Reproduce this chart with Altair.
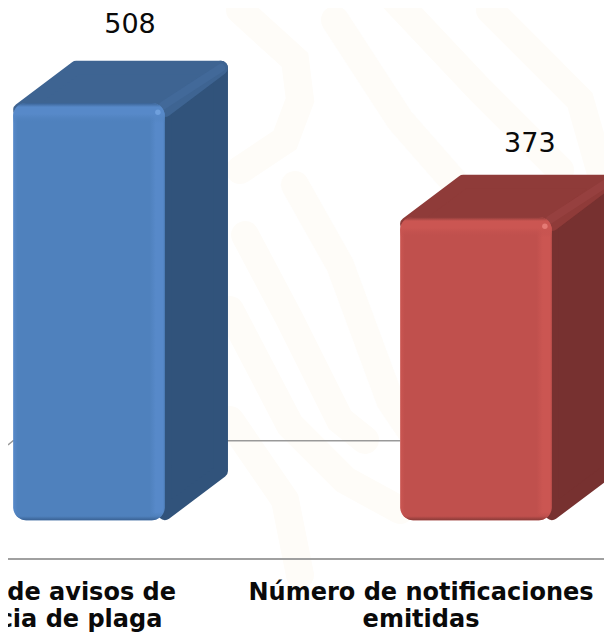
import altair as alt
import pandas as pd

categories = ["Número de avisos de\npresencia de plaga", "Número de notificaciones\nemitidas"]
values = [508, 373]
front_colors = ["#4f81bd", "#c0504d"]
edge_colors = ["#5789c9", "#cb5652"]
top_colors = ["#3e6492", "#8f3b39"]
side_colors = ["#31537b", "#773130"]
ridge_colors = ["#43699a", "#974140"]
shine_colors = ["#79a9e6", "#f08a84"]
dark_colors = ["#3a6294", "#8a3a38"]
label_dx = [0.106, 0.139]
label_dy = [43, 37]

# Faint background watermark bands, in page pixels converted below
watermark_x = [
    [240, 295, 300, 285, 240],
    [245, 290, 340, 365],
    [295, 340, 390, 410],
    [230, 290, 345, 400],
    [230, 285, 300],
    [335, 400, 470],
    [395, 480, 560],
    [490, 580, 600],
]
watermark_y = [
    [10, 60, 100, 140, 170],
    [235, 320, 420, 440],
    [185, 265, 400, 430],
    [310, 425, 480, 510],
    [420, 500, 575],
    [20, 120, 200],
    [0, 90, 170],
    [10, 100, 170],
]

LABEL_FONT = "DejaVu Sans"
PX_X = 387
PX_Y = 0.8444
Y0 = 532
X0 = 89


def wx(p):
    return (p - X0) / PX_X


def wy(p):
    return (Y0 - p) / PX_Y


X_DOMAIN = [wx(8), wx(604)]
Y_DOMAIN = [wy(632), wy(8)]
HALF = 0.196
DX = 0.163
DY = 50
BASE = 14
WALL = 108
AXIS = -32
TEXT_DX = -0.142
INX = 0.018
INY = 8.3

xs = alt.X("x:Q", scale=alt.Scale(domain=X_DOMAIN, nice=False, zero=False), axis=None)
ys = alt.Y("y:Q", scale=alt.Scale(domain=Y_DOMAIN, nice=False, zero=False), axis=None)


def base(rows):
    return alt.Chart(pd.DataFrame(rows))


layers = []
for wxs, wys in zip(watermark_x, watermark_y):
    rows = [{"x": wx(a), "y": wy(b), "o": n} for n, (a, b) in enumerate(zip(wxs, wys))]
    layers.append(
        base(rows)
        .mark_line(color="#fefcf8", strokeWidth=28, strokeCap="round", clip=True)
        .encode(x=xs, y=ys, order="o:Q")
    )

layers += [
    base([{"x": X_DOMAIN[0], "y": WALL - 5, "o": 0}, {"x": -HALF, "y": WALL, "o": 1}, {"x": 1 - HALF, "y": WALL, "o": 2}])
    .mark_line(color="#999999", strokeWidth=1.4)
    .encode(x=xs, y=ys, order="o:Q"),
    base([{"x": X_DOMAIN[0], "y": AXIS}, {"x": X_DOMAIN[1], "y": AXIS}])
    .mark_line(color="#a0a0a0", strokeWidth=2.2)
    .encode(x=xs, y=ys),
]

for i, v in enumerate(values):
    l, r = i - HALF, i + HALF
    side = [
        {"x": r, "y": BASE + INY, "y2": v - INY},
        {"x": r + DX - INX, "y": BASE + DY + INY, "y2": v + DY - INY},
    ]
    layers.append(
        base(side)
        .mark_area(color=side_colors[i], stroke=side_colors[i], strokeWidth=14, strokeJoin="round", clip=True)
        .encode(x=xs, y=ys, y2="y2:Q")
    )
    top = [
        {"y": v - INY, "x": l + INX, "x2": r},
        {"y": v + DY - INY, "x": l + DX, "x2": r + DX - INX},
    ]
    layers.append(
        base(top)
        .mark_area(orient="horizontal", color=top_colors[i], stroke=top_colors[i], strokeWidth=14, strokeJoin="round", clip=True)
        .encode(y=ys, x=xs, x2="x2:Q")
    )
    ridge = [{"x": r - 0.005, "y": v - 3}, {"x": r + DX - INX, "y": v + DY - INY}]
    layers.append(
        base(ridge)
        .mark_line(color=ridge_colors[i], strokeWidth=8, strokeCap="round", opacity=0.9, clip=True)
        .encode(x=xs, y=ys)
    )
    rect = [{"x": l, "x2": r, "y": BASE, "y2": v}]
    layers.append(
        base(rect)
        .mark_rect(
            cornerRadius=13,
            color=alt.Gradient(
                gradient="linear", x1=0, x2=1, y1=0, y2=0,
                stops=[
                    alt.GradientStop(offset=0, color=edge_colors[i]),
                    alt.GradientStop(offset=0.03, color=front_colors[i]),
                    alt.GradientStop(offset=0.9, color=front_colors[i]),
                    alt.GradientStop(offset=0.94, color=edge_colors[i]),
                    alt.GradientStop(offset=0.985, color=edge_colors[i]),
                    alt.GradientStop(offset=1, color=front_colors[i]),
                ],
            ),
        )
        .encode(x=xs, x2="x2:Q", y=ys, y2="y2:Q")
    )
    h = (v - BASE) * PX_Y
    rgb = front_colors[i]
    layers.append(
        base(rect)
        .mark_rect(
            cornerRadius=13,
            color=alt.Gradient(
                gradient="linear", x1=0, x2=0, y1=0, y2=1,
                stops=[
                    alt.GradientStop(offset=0, color=dark_colors[i]),
                    alt.GradientStop(offset=4 / h, color=edge_colors[i]),
                    alt.GradientStop(offset=11 / h, color=edge_colors[i]),
                    alt.GradientStop(offset=20 / h, color=rgb + "00"),
                    alt.GradientStop(offset=1 - 8 / h, color=rgb + "00"),
                    alt.GradientStop(offset=1 - 4 / h, color=rgb),
                    alt.GradientStop(offset=1, color=dark_colors[i]),
                ],
            ),
        )
        .encode(x=xs, x2="x2:Q", y=ys, y2="y2:Q")
    )
    layers.append(
        base([{"x": r - 0.018, "y": v - 11}])
        .mark_point(filled=True, size=30, color=shine_colors[i], opacity=0.7)
        .encode(x=xs, y=ys)
    )
    layers.append(
        base([{"x": i + label_dx[i], "y": v + DY + label_dy[i], "t": str(v)}])
        .mark_text(font=LABEL_FONT, fontSize=27, color="#0a0a0a", align="center", baseline="middle")
        .encode(x=xs, y=ys, text="t:N")
    )
    layers.append(
        base([{"x": i + TEXT_DX, "y": wy(592.5), "t": categories[i]}])
        .mark_text(font=LABEL_FONT, fontSize=24, fontWeight="bold", lineHeight=27, color="#0a0a0a", align="center", baseline="middle", lineBreak="\n")
        .encode(x=xs, y=ys, text="t:N")
    )

chart = (
    alt.layer(*layers)
    .properties(width=596, height=624, padding=0, autosize=alt.AutoSizeParams(type="none"), background="#ffffff")
    .configure_view(stroke=None)
)
chart.save("out.html", embed_options={"renderer": "svg", "actions": False})
